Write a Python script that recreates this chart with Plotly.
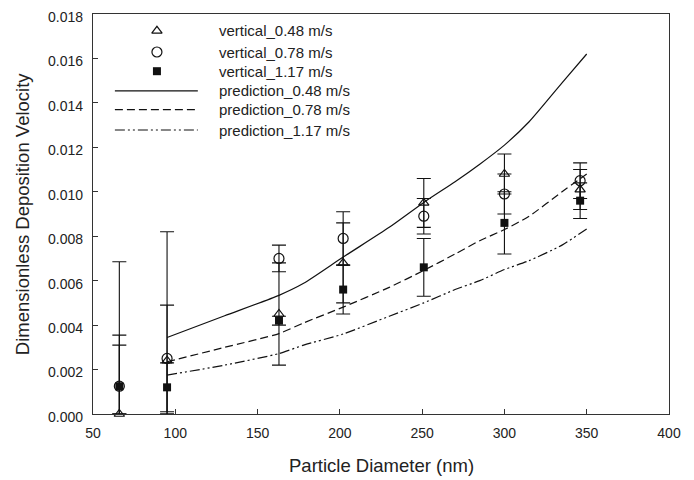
import plotly.graph_objects as go

# ---- data ----
diam = [66, 95, 163, 202, 251, 300, 346]
v048 = [0.0000, 0.0024, 0.0045, 0.0068, 0.0095, 0.0108, 0.0101]
e048 = [0.0031, 0.0025, 0.0023, 0.0018, 0.0011, 0.0009, 0.0009]
v078 = [0.00125, 0.0025, 0.0070, 0.0079, 0.0089, 0.0099, 0.0105]
e078 = [0.0056, 0.0057, 0.0006, 0.0012, 0.0008, 0.0009, 0.0008]
v117 = [0.00125, 0.0012, 0.0042, 0.0056, 0.0066, 0.0086, 0.0096]
e117 = [0.0023, 0.0011, 0.0002, 0.0011, 0.0013, 0.0014, 0.0008]

pred_d = [95, 130, 163, 178, 202, 230, 251, 270, 285, 300, 315, 335, 350]
p048 = [0.00344, 0.00442, 0.00534, 0.00588, 0.00706, 0.0084, 0.00952, 0.01045, 0.01124, 0.0121, 0.01315, 0.0149, 0.0162]
p078 = [0.00235, 0.0030, 0.00362, 0.0041, 0.00481, 0.0057, 0.00646, 0.0072, 0.0078, 0.0083, 0.0089, 0.0100, 0.0108]
p117 = [0.00175, 0.0022, 0.00272, 0.0031, 0.0036, 0.0044, 0.0050, 0.0056, 0.0060, 0.0065, 0.0069, 0.0076, 0.00833]

legend_labels = ["vertical_0.48 m/s", "vertical_0.78 m/s", "vertical_1.17 m/s",
                 "prediction_0.48 m/s", "prediction_0.78 m/s", "prediction_1.17 m/s"]

x_ticks = [50, 100, 150, 200, 250, 300, 350, 400]
y_ticks = [0.000, 0.002, 0.004, 0.006, 0.008, 0.010, 0.012, 0.014, 0.016, 0.018]

x_title = "Particle Diameter (nm)"
y_title = "Dimensionless Deposition Velocity"

INK = "#111111"
DASH2 = "8px,4px"
DASH3 = "10px,3px,2px,3px,2px,3px"
FAM = "Liberation Sans, Arial, sans-serif"

fig = go.Figure()

for y, dash in [(p048, "solid"), (p078, DASH2), (p117, DASH3)]:
    fig.add_trace(go.Scatter(x=pred_d, y=y, mode="lines", showlegend=False,
                             line=dict(color=INK, width=1.2, dash=dash, shape="spline", smoothing=0.6)))

def minus(vals, errs):
    return [min(e, v) for v, e in zip(vals, errs)]

series = [
    (v048, e048, dict(symbol="triangle-up-open", size=9, color=INK, line=dict(width=1.2, color=INK))),
    (v078, e078, dict(symbol="circle-open", size=10, color=INK, line=dict(width=1.2, color=INK))),
    (v117, e117, dict(symbol="square", size=8, color=INK, line=dict(width=0, color=INK))),
]
for vals, errs, mk in series:
    fig.add_trace(go.Scatter(
        x=diam, y=vals, mode="markers", showlegend=False, marker=mk, cliponaxis=False,
        error_y=dict(type="data", symmetric=False, array=errs, arrayminus=minus(vals, errs),
                     color=INK, thickness=1.1, width=7)))

# ---- custom legend on overlay axes ----
rows = [0.958, 0.905, 0.857, 0.808, 0.761, 0.710]
for i, (vals, errs, mk) in enumerate(series):
    fig.add_trace(go.Scatter(x=[0.111], y=[rows[i]], mode="markers", marker=mk,
                             xaxis="x2", yaxis="y2", showlegend=False, hoverinfo="skip"))
for j, dash in enumerate(["solid", DASH2, DASH3]):
    fig.add_trace(go.Scatter(x=[0.038, 0.182], y=[rows[3 + j]] * 2, mode="lines",
                             line=dict(color=INK, width=1.2, dash=dash),
                             xaxis="x2", yaxis="y2", showlegend=False, hoverinfo="skip"))
for i, lab in enumerate(legend_labels):
    fig.add_annotation(x=0.218, y=rows[i], xref="x2", yref="y2", text=lab, showarrow=False,
                       xanchor="left", yanchor="middle", xshift=-2,
                       font=dict(family=FAM, size=15, color="#222"))

# axis titles as annotations for exact placement
title_font = dict(family=FAM, size=18.5, color="#222")
fig.add_annotation(x=0.5, y=-0.13, xref="paper", yref="paper", text=x_title, showarrow=False,
                   xanchor="center", yanchor="middle", font=title_font)
fig.add_annotation(x=-0.123, y=0.5, xref="paper", yref="paper", text=y_title, showarrow=False,
                   xanchor="center", yanchor="middle", textangle=-90, font=title_font)

axis_font = dict(family=FAM, size=14, color="#222")
# page body has an 8px default margin, so the figure is 8px smaller and margins compensate
fig.update_layout(
    width=686, height=472,
    margin=dict(l=85, r=25, t=6, b=66),
    paper_bgcolor="white", plot_bgcolor="white",
    font=axis_font,
    xaxis=dict(range=[50, 400], tickvals=x_ticks, ticks="inside", ticklen=5, tickcolor="#333",
               showline=True, linecolor="#333", linewidth=1.2, mirror=True, showgrid=False,
               zeroline=False, tickfont=axis_font, automargin=False, ticklabelstandoff=6,
               ticklabeloverflow="allow"),
    yaxis=dict(range=[0, 0.018], tickvals=y_ticks, tickformat=".3f", ticks="inside", ticklen=5,
               tickcolor="#333", showline=True, linecolor="#333", linewidth=1.2, mirror=True,
               showgrid=False, zeroline=False, tickfont=axis_font, automargin=False,
               ticklabelstandoff=6, ticklabeloverflow="allow", ticklabelshift=3),
    xaxis2=dict(range=[0, 1], overlaying="x", visible=False, fixedrange=True),
    yaxis2=dict(range=[0, 1], overlaying="y", visible=False, fixedrange=True),
)

fig.write_html("out.html")
